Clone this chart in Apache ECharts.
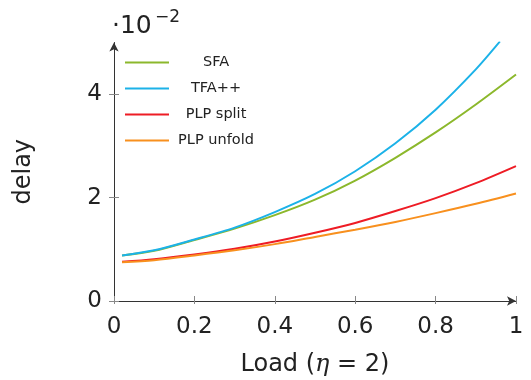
<!DOCTYPE html>
<html>
<head>
<meta charset="utf-8">
<script src="https://cdn.jsdelivr.net/npm/echarts@6/dist/echarts.min.js"></script>
<style>
  html, body { margin: 0; padding: 0; background: #fff; }
  #box { width: 531px; height: 380px; }
</style>
</head>
<body>
<div id="box"></div>
<script>
// load values (x) and delay values (y, in units of 1e-2)
const loads = [0.02, 0.1, 0.2, 0.3, 0.4, 0.5, 0.6, 0.7, 0.8, 0.9, 1.0];
const tfaLoads = [0.02, 0.1, 0.2, 0.3, 0.4, 0.5, 0.6, 0.7, 0.8, 0.9, 0.96];
const sfa = [0.88, 0.97, 1.18, 1.4, 1.66, 1.96, 2.33, 2.77, 3.26, 3.8, 4.38];
const tfa = [0.88, 0.98, 1.19, 1.42, 1.72, 2.07, 2.51, 3.05, 3.7, 4.48, 5.02];
const plpSplit = [0.76, 0.81, 0.9, 1.01, 1.15, 1.32, 1.51, 1.74, 1.99, 2.28, 2.61];
const plpUnfold = [0.75, 0.79, 0.88, 0.98, 1.1, 1.24, 1.38, 1.53, 1.7, 1.88, 2.08];
const xTicks = [0, 0.2, 0.4, 0.6, 0.8, 1];
const yTicks = [0, 2, 4];

const font = "DejaVu Sans";
const colors = ["#8cb82c", "#1cb2e8", "#ee1c25", "#f8901e"];

function pairs(xs, ys) {
  return xs.map((x, i) => [x, ys[i]]);
}

function line(name, xs, ys) {
  return {
    name: name,
    type: "line",
    data: pairs(xs, ys),
    smooth: 0.3,
    symbol: "none",
    lineStyle: { width: 2 },
    xAxisIndex: 0,
    yAxisIndex: 0,
  };
}

const chart = echarts.init(document.getElementById("box"));

const option = {
  backgroundColor: "#fff",
  color: colors,
  animation: false,
  grid: { left: 114, right: 15, top: 42.5, bottom: 79, outerBoundsMode: "none" },
  legend: {
    orient: "vertical",
    left: 120,
    top: 50,
    icon: "path://M0,0H44V2H0Z",
    itemWidth: 44,
    itemHeight: 2,
    itemGap: 11,
    data: ["SFA", "TFA++", "PLP split", "PLP unfold"],
    formatter: "{t|{name}}",
    textStyle: {
      rich: {
        t: { width: 84, align: "center", fontFamily: font, fontSize: 14.5, color: "#222", lineHeight: 15 },
      },
    },
  },
  xAxis: [
    {
      type: "value",
      min: 0,
      max: 1,
      name: "Load ({i|η} = 2)",
      nameLocation: "middle",
      nameGap: 52,
      nameTextStyle: {
        fontFamily: font,
        fontSize: 24,
        color: "#222",
        rich: { i: { fontFamily: "DejaVu Serif", fontStyle: "italic", fontSize: 24, color: "#222" } },
      },
      splitLine: { show: false },
      axisLine: { lineStyle: { color: "#333", width: 1 }, symbol: ["none", "arrow"], symbolSize: [7, 9] },
      axisTick: { show: true, inside: false, length: 3, lineStyle: { color: "#888" }, customValues: xTicks },
      axisLabel: {
        customValues: xTicks,
        fontFamily: font,
        fontSize: 23,
        color: "#222",
        margin: 15,
        formatter: v => String(v),
      },
    },
    {
      type: "value",
      min: 0,
      max: 1,
      position: "bottom",
      axisLine: { show: false },
      splitLine: { show: false },
      axisTick: { show: true, inside: true, length: 5, lineStyle: { color: "#888" }, customValues: xTicks },
      axisLabel: { show: false },
    },
  ],
  yAxis: [
    {
      type: "value",
      min: 0,
      max: 5,
      name: "delay",
      nameLocation: "middle",
      nameGap: 78,
      nameTextStyle: { fontFamily: font, fontSize: 24, color: "#222" },
      splitLine: { show: false },
      axisLine: { show: true, lineStyle: { color: "#333", width: 1 }, symbol: ["none", "arrow"], symbolSize: [7, 9] },
      axisTick: { show: true, inside: false, length: 5, lineStyle: { color: "#888" }, customValues: yTicks },
      axisLabel: {
        customValues: yTicks,
        fontFamily: font,
        fontSize: 23,
        color: "#222",
        margin: 12,
      },
    },
    {
      type: "value",
      min: 0,
      max: 5,
      position: "left",
      axisLine: { show: false },
      splitLine: { show: false },
      axisTick: { show: true, inside: true, length: 5, lineStyle: { color: "#888" }, customValues: yTicks },
      axisLabel: { show: false },
    },
  ],
  graphic: [
    {
      type: "text",
      left: 112,
      top: 14,
      style: { text: "·10", fontFamily: font, fontSize: 25, fill: "#222" },
    },
    {
      type: "text",
      left: 155,
      top: 9,
      style: { text: "−2", fontFamily: font, fontSize: 17, fill: "#222" },
    },
  ],
  series: [
    line("SFA", loads, sfa),
    line("TFA++", tfaLoads, tfa),
    line("PLP split", loads, plpSplit),
    line("PLP unfold", loads, plpUnfold),
  ],
};

chart.setOption(option);
</script>
</body>
</html>
